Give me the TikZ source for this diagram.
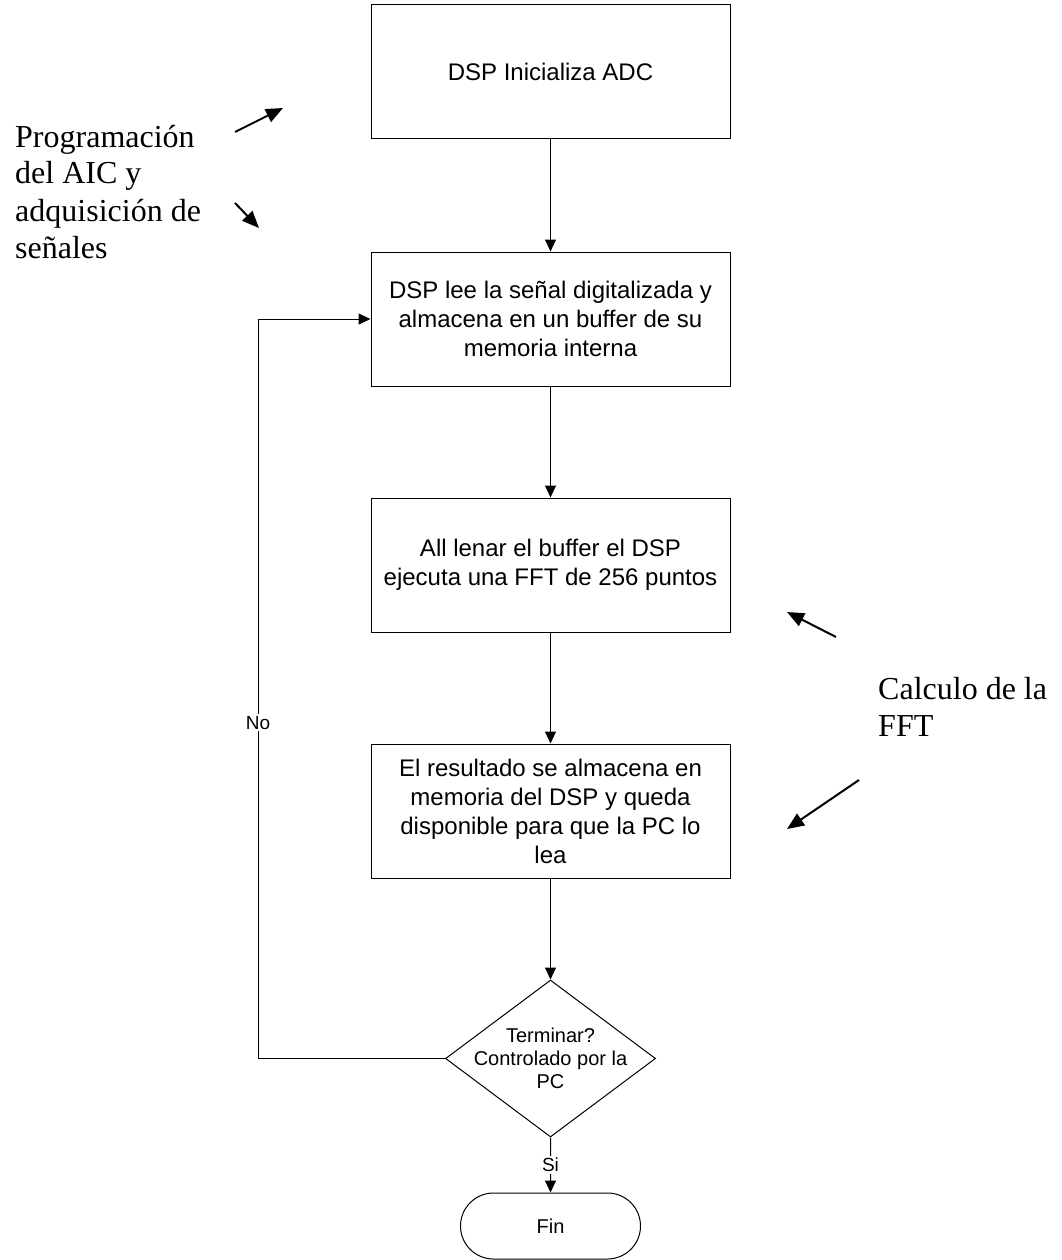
\documentclass[tikz,border=0pt]{standalone}
\usepackage{fontspec}
\setmainfont{Liberation Sans}
\newfontfamily\serifnote{Liberation Serif}
\usetikzlibrary{arrows.meta,shapes.geometric,shapes.misc}
\begin{document}
\begin{tikzpicture}[x=1pt,y=-1pt,
  procbox/.style={draw, line width=1pt, minimum width=359pt, minimum height=134pt,
    inner sep=0pt, align=center, font=\fontsize{24}{29}\selectfont},
  flow/.style={line width=1pt, -{Triangle[length=12pt,width=11pt]}},
  note/.style={line width=2pt, -{Triangle[length=17pt,width=14pt]}},
  notetext/.style={font=\serifnote\fontsize{32}{37}\selectfont, align=left,
    inner sep=0pt, anchor=base west},
  lbl/.style={fill=white, inner sep=2pt, font=\fontsize{19}{22}\selectfont}]
\useasboundingbox (0,0) rectangle (1061,1260);

% process steps
\node[procbox] (b1) at (550.5,72) {DSP Inicializa ADC};
\node[procbox] (b2) at (550.5,319) {DSP lee la señal digitalizada y\\almacena en un buffer de su\\memoria interna};
\node[procbox] (b3) at (550.5,565) {All lenar el buffer el DSP\\ejecuta una FFT de 256 puntos};
\node[procbox] (b4) at (550.5,811) {El resultado se almacena en\\memoria del DSP y queda\\disponible para que la PC lo\\lea};

% decision and end
\node[draw, diamond, line width=1pt, minimum width=210pt, minimum height=157pt,
  inner sep=0pt] (dec) at (550.5,1058.5) {};
\node[align=center, inner sep=0pt, font=\fontsize{20}{23}\selectfont] (dectext) at (dec)
  {Terminar?\\Controlado por la\\PC};
\node[draw, rounded rectangle, line width=1pt, minimum width=180pt, minimum height=66pt,
  inner sep=0pt, font=\fontsize{20}{24}\selectfont] (fin) at (550.5,1226) {Fin};

% main flow
\draw[flow] (b1) -- (b2);
\draw[flow] (b2) -- (b3);
\draw[flow] (b3) -- (b4);
\draw[flow] (b4) -- (dec);
\draw[flow] (dec) -- node[lbl] {Si} (fin);
\coordinate (loop) at (258,1058.5);
\draw[flow] (dec.west) -- (loop) |- node[lbl, pos=0.227] {No} (b2.west);

% side notes (anchored on the baseline of the last line)
\node[notetext] (n1) at (15,258) {Programación\\del AIC y\\adquisición de\\señales};
\node[notetext] (n2) at (878,736) {Calculo de la\\FFT};

\coordinate (a1s) at (235,132); \coordinate (a1e) at (283,108);
\coordinate (a2s) at (235,203); \coordinate (a2e) at (259,228);
\coordinate (a3s) at (836,637); \coordinate (a3e) at (787,612);
\coordinate (a4s) at (859,780); \coordinate (a4e) at (787,829);
\draw[note] (a1s) -- (a1e);
\draw[note] (a2s) -- (a2e);
\draw[note] (a3s) -- (a3e);
\draw[note] (a4s) -- (a4e);
\end{tikzpicture}
\end{document}
